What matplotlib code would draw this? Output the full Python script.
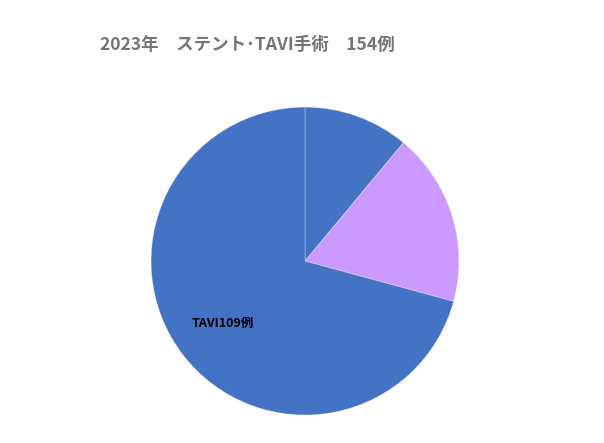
import matplotlib
matplotlib.use("Agg")
import matplotlib.pyplot as plt

plt.rcParams['font.family'] = ['Noto Sans CJK JP', 'DejaVu Sans']

categories = ["ステント（その他）", "ステント", "TAVI"]
values = [17, 28, 109]
colors = ["#4472C4", "#CC99FF", "#4472C4"]
labels = ["", "", "TAVI109例"]
title = "2023年　ステント･TAVI手術　154例"

fig = plt.figure(figsize=(6.04, 4.43), dpi=100)
ax = fig.add_axes([0.25, 0.0632, 0.51, 0.695])
wedges, texts = ax.pie(values, colors=colors, labels=labels, startangle=90,
                       counterclock=False, labeldistance=0.67,
                       wedgeprops=dict(edgecolor=(1, 1, 1, 0.35), linewidth=0.6),
                       textprops=dict(fontsize=9, fontweight='bold', color='black',
                                      ha='center', va='center'))
ax.set_aspect('equal')
ax.set_xlim(-1, 1)
ax.set_ylim(-1, 1)

fig.text(100 / 604, 1 - 45 / 443, title, ha='left', va='center',
         fontsize=12.6, fontweight='bold', color='#757575')

fig.savefig("out.png", dpi=100)
